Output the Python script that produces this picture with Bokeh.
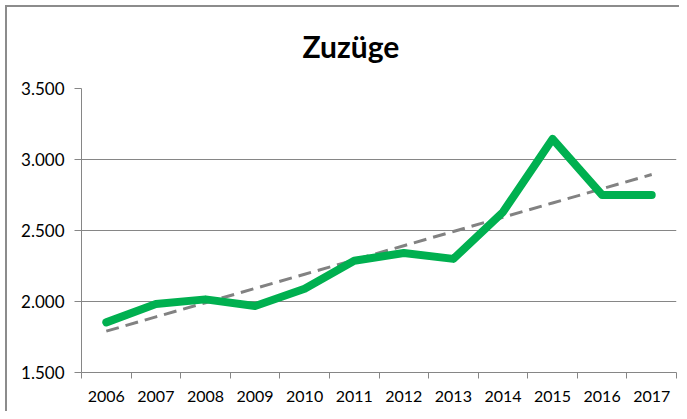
import numpy as np
from bokeh.plotting import figure
from bokeh.models import Range1d, FixedTicker, ColumnDataSource
from bokeh.embed import file_html
from bokeh.resources import INLINE

# ---- data ----
years = ["2006", "2007", "2008", "2009", "2010", "2011",
         "2012", "2013", "2014", "2015", "2016", "2017"]
zuzuege = [1853, 1982, 2015, 1968, 2090, 2287, 2342, 2300, 2630, 3145, 2750, 2750]
y_ticks = [1500, 2000, 2500, 3000, 3500]
y_tick_labels = ["1.500", "2.000", "2.500", "3.000", "3.500"]
title_text = "Zuzüge"

# category centres on a numeric axis (so the tick marks can sit between categories)
xpos = [i + 0.5 for i in range(len(years))]
coef = np.polyfit(xpos, zuzuege, 1)
trend = list(np.polyval(coef, xpos))

src = ColumnDataSource(dict(x=xpos, y=zuzuege, trend=trend))

GRAY = "#868686"
FONT = "Lato"

p = figure(width=679, height=411, output_backend="svg", toolbar_location=None,
           x_range=Range1d(0, len(years)), y_range=Range1d(y_ticks[0], y_ticks[-1]),
           min_border_left=81, min_border_right=3, min_border_top=86, min_border_bottom=39)
p.border_fill_color = None
p.styles = {"box-shadow": "inset 5px 5px 0 0 #ffffff, inset 7px 7px 0 0 #8c8c8c"}
p.outline_line_color = None

p.title.text = title_text
p.title.align = "left"
p.title.offset = 221
p.title.standoff = 50
p.title.text_font = FONT
p.title.text_font_style = "bold"
p.title.text_font_size = "30px"
p.title.text_color = "#000000"

# trend line (dashed) then the data line
p.line("x", "trend", source=src, line_color="#828282", line_width=3, line_dash="13 7")
p.line("x", "y", source=src, line_color="#00B050", line_width=8,
       line_cap="round", line_join="round")

# grid
p.xgrid.visible = False
p.ygrid.grid_line_color = GRAY
p.ygrid.grid_line_width = 1

# x axis
xa = p.xaxis[0]
xa.ticker = FixedTicker(ticks=xpos, minor_ticks=list(range(len(years) + 1)))
xa.major_label_overrides = {x: y for x, y in zip(xpos, years)}
xa.axis_line_color = GRAY
xa.major_tick_line_color = None
xa.major_tick_out = 0
xa.minor_tick_line_color = GRAY
xa.minor_tick_out = 6
xa.minor_tick_in = 0
xa.major_label_standoff = 12
xa.major_label_text_font = FONT
xa.major_label_text_font_size = "16px"
xa.major_label_text_color = "#000000"

# y axis
ya = p.yaxis[0]
ya.ticker = FixedTicker(ticks=y_ticks, minor_ticks=[])
ya.major_label_overrides = {t: l for t, l in zip(y_ticks, y_tick_labels)}
ya.axis_line_color = GRAY
ya.major_tick_line_color = GRAY
ya.major_tick_out = 7
ya.major_tick_in = 0
ya.minor_tick_line_color = None
ya.major_label_standoff = 10
ya.major_label_text_font = FONT
ya.major_label_text_font_size = "17px"
ya.major_label_text_color = "#000000"

open("out.html", "w").write(file_html(p, INLINE))
